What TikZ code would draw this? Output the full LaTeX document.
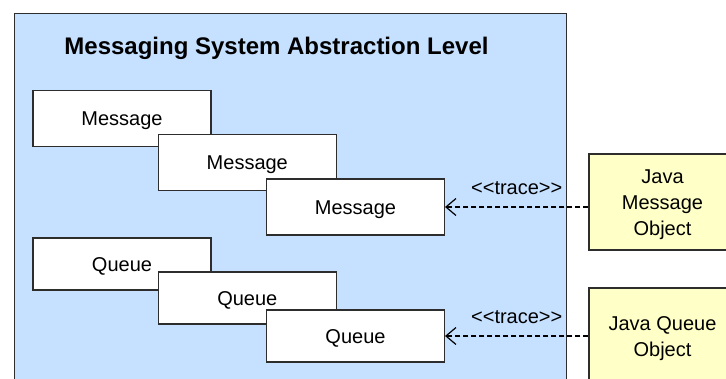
\documentclass[tikz,border=0pt]{standalone}
\usepackage{fontspec}
\setmainfont{Liberation Sans}
\usetikzlibrary{arrows.meta}
\definecolor{panelblue}{RGB}{198,224,255}
\definecolor{javayellow}{RGB}{255,255,200}
\definecolor{edge}{RGB}{45,45,45}
\tikzset{
  x=1pt, y=-1pt,
  every node/.style={font=\fontsize{20}{25.8}\selectfont},
  classbox/.style={draw=edge, line width=1.1pt, fill=white, inner sep=0pt,
    minimum width=178pt, text height=14.3pt, text depth=0pt},
  msgbox/.style={classbox, minimum height=56pt},
  queuebox/.style={classbox, minimum height=52pt},
  javabox/.style={draw=edge, line width=1.1pt, fill=javayellow, inner sep=0pt,
    minimum width=147pt, minimum height=96pt},
  javatext/.style={align=center, inner sep=0pt, yshift=-2.5pt},
  traceline/.style={draw=black, line width=1.2pt, dash pattern=on 5pt off 3pt,
    -{Straight Barb[length=10pt,width=17pt,line width=1.2pt]}},
  tracelabel/.style={midway, above=11.6pt, inner sep=0pt, text depth=0pt}
}
\begin{document}
\begin{tikzpicture}
\path[use as bounding box] (0,0) rectangle (726,379);
\clip (0,0) rectangle (726,379);

% abstraction level panel
\node[draw=edge, line width=1.2pt, fill=panelblue, inner sep=0pt,
      minimum width=551.5pt, minimum height=390pt, anchor=north west]
      (panel) at (14,13) {};
\node[font=\fontsize{24}{28}\selectfont\bfseries, anchor=base] (title)
      at (276.5,55) {Messaging System Abstraction Level};

% stacked message classes
\node[msgbox] (m1) at (122,118.5) {Message};
\node[msgbox] (m2) at (247.3,162.3) {Message};
\node[msgbox] (m3) at (355.5,207) {Message};

% stacked queue classes
\node[queuebox] (q1) at (122,264) {Queue};
\node[queuebox] (q2) at (247.3,298) {Queue};
\node[queuebox] (q3) at (355.5,336) {Queue};

% Java objects
\node[javabox] (jmsg) at (662.5,202) {};
\node[javatext] (jmsgtext) at (jmsg.center) {Java\\Message\\Object};
\node[javabox] (jqueue) at (662.5,336) {};
\node[javatext] (jqueuetext) at (jqueue.center) {Java Queue\\Object};

% trace dependencies
\draw[traceline] (m3.east -| jmsg.west) -- (m3.east)
  node[tracelabel] (t1) {<{}<trace>{}>};
\draw[traceline] (q3.east -| jqueue.west) -- (q3.east)
  node[tracelabel] (t2) {<{}<trace>{}>};
\end{tikzpicture}
\end{document}
